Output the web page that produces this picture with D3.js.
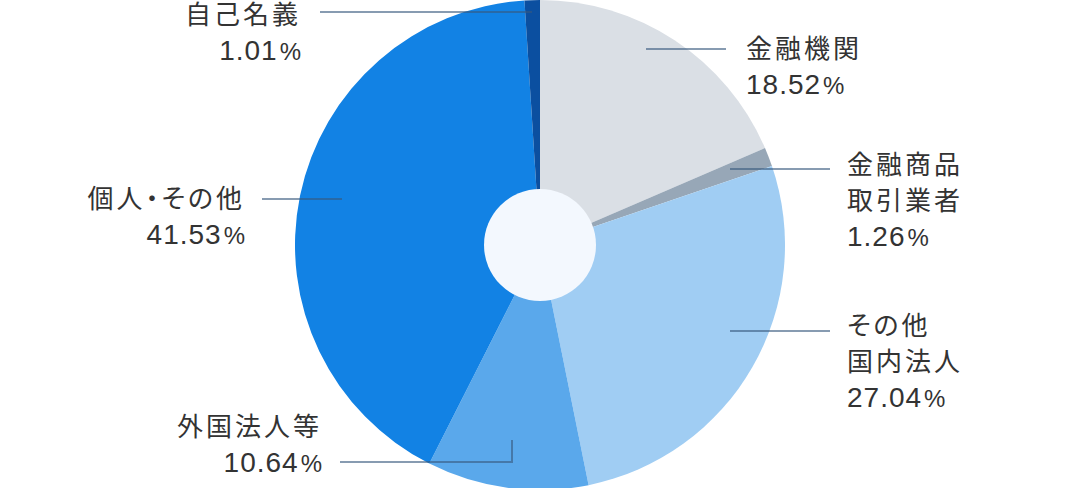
<!DOCTYPE html>
<html lang="ja">
<head>
<meta charset="UTF-8">
<title>株主構成</title>
<script src="https://d3js.org/d3.v7.min.js"></script>
<style>
  body { margin: 0; background: #fff; }
  .label { font-family: "Noto Sans CJK JP", sans-serif; fill: #333; }
  .name { font-size: 26px; letter-spacing: 3px; font-feature-settings: "palt"; }
  .num { font-family: "Liberation Sans", Arial, sans-serif; font-size: 28px; letter-spacing: 1px; }
  .pct { font-family: "Liberation Sans", Arial, sans-serif; font-size: 24px; letter-spacing: 0; }
  .leader { stroke: rgba(55, 88, 125, 0.6); stroke-width: 2; fill: none; }
</style>
</head>
<body>
<script>
// data
const categories = ["金融機関", "金融商品取引業者", "その他国内法人", "外国法人等", "個人・その他", "自己名義"];
const shares = [18.52, 1.26, 27.04, 10.64, 41.53, 1.01];
const labelLines = [["金融機関"], ["金融商品", "取引業者"], ["その他", "国内法人"], ["外国法人等"], ["個人・その他"], ["自己名義"]];
const colors = ["#dadfe5", "#97a7b7", "#a0cdf3", "#5aa8eb", "#1282e4", "#0b4fa0"];

// label placement (leader line points, text anchor and first baseline)
const leaders = [
  { pts: [[646, 49], [726, 49]], x: 746, y: 58, anchor: "start" },
  { pts: [[730, 169], [830, 169]], x: 847, y: 174, anchor: "start" },
  { pts: [[730, 331], [830, 331]], x: 847, y: 335, anchor: "start" },
  { pts: [[512, 440], [512, 462], [340, 462]], x: 322, y: 436, anchor: "end" },
  { pts: [[342, 199], [262, 199]], x: 245, y: 208, anchor: "end" },
  { pts: [[532, 12], [320, 12]], x: 301, y: 24, anchor: "end" }
];

const width = 1080, height = 488;
const cx = 540, cy = 245, radius = 245, holeR = 56;
const lineH = 36;

const svg = d3.select("body").append("svg")
  .attr("width", width)
  .attr("height", height);

const pie = d3.pie().sort(null).value(d => d);
const arc = d3.arc().innerRadius(0).outerRadius(radius);
const color = d3.scaleOrdinal().domain(categories).range(colors);

const g = svg.append("g").attr("transform", `translate(${cx},${cy})`);

g.selectAll("path.slice")
  .data(pie(shares))
  .enter()
  .append("path")
  .attr("class", "slice")
  .attr("d", arc)
  .attr("fill", (d, i) => color(categories[i]));

g.append("circle")
  .attr("r", holeR)
  .attr("fill", "#f3f8fe");

// leader lines
const line = d3.line();
svg.selectAll("path.leader")
  .data(leaders)
  .enter()
  .append("path")
  .attr("class", "leader")
  .attr("d", d => line(d.pts));

// labels
categories.forEach((c, i) => {
  const L = leaders[i];
  const t = svg.append("text")
    .attr("class", "label")
    .attr("text-anchor", L.anchor)
    .attr("x", L.x)
    .attr("y", L.y);
  labelLines[i].forEach((s, j) => {
    t.append("tspan")
      .attr("class", "name")
      .attr("x", L.x)
      .attr("dy", j === 0 ? 0 : lineH)
      .text(s);
  });
  t.append("tspan")
    .attr("class", "num")
    .attr("x", L.x)
    .attr("dy", lineH)
    .text(d3.format(".2f")(shares[i]));
  t.append("tspan")
    .attr("class", "pct")
    .attr("dx", 2)
    .text("%");
});
</script>
</body>
</html>
